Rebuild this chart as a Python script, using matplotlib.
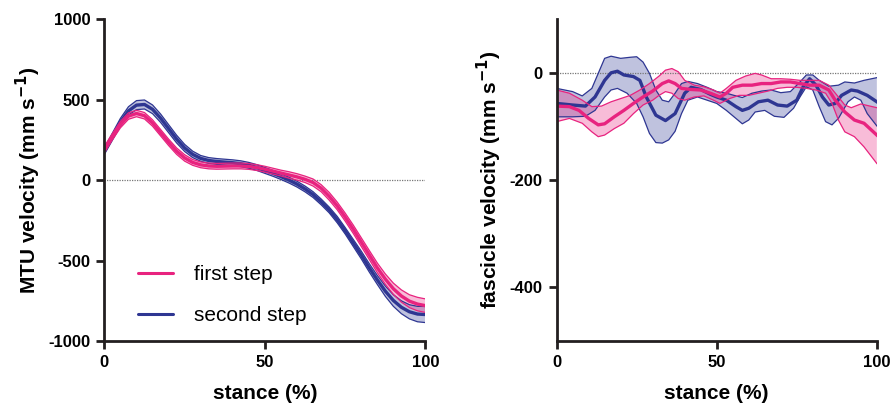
import numpy as np
import matplotlib
matplotlib.use('Agg')
import matplotlib.pyplot as plt

plt.rcParams['font.family'] = ['Liberation Sans', 'DejaVu Sans']
plt.rcParams['axes.unicode_minus'] = False

PINK = '#e8237f'
BLUE = '#2e3692'
AXC = '#231f20'

# MTU velocity (mm/s) over stance, mean and SD
stance = np.arange(0, 100.1, 2.5)
mtu_first = [190, 270, 345, 398, 414, 400, 355, 295, 235, 180, 138, 110, 95, 88, 86, 87,
             88, 88, 85, 78, 68, 56, 44, 32, 20, 5, -15, -50, -100, -160, -230, -305,
             -385, -465, -545, -615, -675, -720, -752, -770, -780]
mtu_first_sd = [20, 20, 20, 20, 20, 20, 20, 20, 20, 20, 20, 18, 18, 18, 18, 18,
                18, 18, 18, 18, 18, 18, 18, 20, 20, 20, 22, 22, 24, 24, 25, 26,
                27, 28, 30, 32, 35, 38, 40, 42, 42]
mtu_second = [180, 270, 360, 430, 466, 470, 440, 385, 320, 255, 200, 160, 135, 122, 116, 112,
              108, 102, 92, 78, 60, 42, 22, 0, -25, -55, -90, -135, -185, -245, -315, -390,
              -465, -545, -620, -690, -748, -790, -818, -832, -835]
mtu_second_sd = [20, 22, 24, 26, 28, 28, 27, 26, 25, 24, 22, 20, 18, 18, 18, 18,
                 18, 18, 18, 18, 18, 18, 18, 18, 18, 18, 18, 18, 18, 20, 20, 22,
                 24, 26, 28, 32, 36, 40, 44, 48, 50]

# fascicle velocity (mm/s): mean line and SD band edges
fas_second_x = [0, 5, 9, 12, 15, 17, 19, 21, 24, 26, 28, 31, 34, 37, 40, 42, 45, 48, 50,
                53, 56, 58, 60, 63, 66, 69, 72, 75, 77, 79, 81, 83, 85, 87, 89, 92, 94, 97, 100]
fas_second = [-57, -60, -62, -45, -14, 0, 3, -4, -7, -14, -45, -79, -89, -76, -38, -27, -31,
              -40, -45, -51, -63, -70, -66, -54, -51, -60, -62, -51, -26, -11, -23, -45, -60,
              -57, -42, -32, -34, -42, -54]
fas_second_hi_x = [0, 5, 8, 11, 13, 15, 17, 20, 23, 25, 27, 29, 31, 33, 35, 37, 39, 41, 44,
                   47, 50, 53, 56, 58, 61, 64, 67, 70, 73, 76, 78, 80, 82, 85, 88, 90, 93, 96, 100]
fas_second_hi = [-29, -35, -43, -29, -1, 27, 31, 27, 29, 30, 20, -1, -32, -51, -54, -38, -20,
                 -16, -20, -27, -35, -38, -43, -46, -38, -34, -32, -37, -35, -17, -4, -4, -14,
                 -25, -23, -17, -19, -14, -9]
fas_second_lo_x = [0, 5, 9, 12, 15, 17, 19, 22, 25, 27, 29, 31, 33, 35, 37, 39, 41, 44, 47,
                   50, 53, 56, 58, 60, 62, 65, 68, 71, 74, 76, 78, 80, 82, 84, 86, 88, 91, 93,
                   95, 97, 100]
fas_second_lo = [-82, -82, -81, -70, -45, -32, -29, -38, -57, -82, -113, -130, -131, -125,
                 -109, -76, -51, -45, -51, -57, -70, -85, -95, -88, -73, -70, -81, -83, -66,
                 -45, -26, -32, -63, -91, -97, -85, -54, -45, -51, -76, -99]

fas_first_x = [0, 4, 7, 10, 13, 15, 18, 21, 24, 27, 30, 33, 35, 37, 39, 42, 45, 48, 51, 53,
               55, 58, 61, 64, 67, 70, 73, 76, 79, 82, 85, 87, 90, 93, 96, 100]
fas_first = [-62, -63, -70, -85, -97, -95, -82, -70, -57, -45, -34, -20, -15, -20, -29, -31,
             -32, -38, -45, -38, -27, -23, -23, -20, -20, -17, -17, -20, -23, -23, -32, -51,
             -73, -88, -94, -116]
fas_first_hi_x = [0, 4, 8, 11, 14, 17, 20, 23, 26, 29, 32, 34, 36, 38, 40, 43, 46, 49, 51,
                  53, 56, 59, 62, 64, 67, 70, 73, 76, 79, 82, 85, 88, 90, 92, 95, 100]
fas_first_hi = [-32, -38, -51, -63, -62, -54, -48, -42, -32, -20, -6, 5, 8, 2, -14, -23, -26,
                -32, -38, -29, -14, -6, -1, -4, -11, -11, -12, -14, -14, -14, -23, -45, -60,
                -65, -58, -65]
fas_first_lo_x = [0, 4, 8, 11, 13, 15, 18, 21, 24, 27, 30, 32, 34, 36, 38, 40, 43, 46, 49,
                  51, 54, 57, 60, 63, 66, 69, 72, 75, 78, 81, 84, 86, 88, 90, 93, 96, 100]
fas_first_lo = [-91, -85, -94, -110, -119, -116, -104, -94, -76, -60, -51, -42, -35, -38,
                -48, -51, -45, -43, -51, -57, -48, -42, -42, -38, -34, -29, -27, -27, -29,
                -32, -38, -57, -88, -110, -119, -138, -169]


def style_axes(ax):
    for side in ['top', 'right']:
        ax.spines[side].set_visible(False)
    for side in ['left', 'bottom']:
        ax.spines[side].set_linewidth(2)
        ax.spines[side].set_color(AXC)
        ax.spines[side].set_clip_on(False)
    ax.tick_params(width=2, length=6, color=AXC, labelsize=12, pad=4)
    for lab in ax.get_xticklabels() + ax.get_yticklabels():
        lab.set_fontweight('bold')
    ax.axhline(0, xmin=0, xmax=1, color='#777777', lw=0.9, ls=(0, (1, 1)), zorder=1)


def band(ax, xh, yh, xl, yl, color):
    px = np.concatenate([xh, xl[::-1]])
    py = np.concatenate([yh, yl[::-1]])
    ax.fill(px, py, color=color, alpha=0.3, lw=0)
    ax.plot(xh, yh, color=color, lw=0.9)
    ax.plot(xl, yl, color=color, lw=0.9)


fig = plt.figure(figsize=(8.92, 4.08), dpi=100)
ax1 = fig.add_axes([0.117, 0.164, 0.360, 0.789])
ax2 = fig.add_axes([0.624, 0.164, 0.359, 0.789])

# left: MTU velocity
for mean, sd, col, lab in [(mtu_second, mtu_second_sd, BLUE, 'second step'),
                           (mtu_first, mtu_first_sd, PINK, 'first step')]:
    m = np.array(mean, dtype=float)
    s = np.array(sd, dtype=float)
    band(ax1, stance, m + s, stance, m - s, col)
    ax1.plot(stance, m, color=col, lw=2.4, label=lab, solid_capstyle='round')

ax1.set_xlim(0, 100)
ax1.set_ylim(-1000, 1000)
ax1.set_xticks([0, 50, 100])
ax1.set_yticks([-1000, -500, 0, 500, 1000])
style_axes(ax1)
ax1.set_xlabel('stance (%)', fontsize=15, fontweight='bold', labelpad=10)
ax1.set_ylabel('MTU velocity (mm s$^{\\mathbf{-1}}$)', fontsize=15, fontweight='bold', labelpad=4)
handles, labels = ax1.get_legend_handles_labels()
leg = ax1.legend(handles[::-1], labels[::-1], loc='lower left', bbox_to_anchor=(0.105, 0.05),
                 frameon=False, fontsize=15, handlelength=1.7, handletextpad=1.0,
                 labelspacing=1.05, borderpad=0, borderaxespad=0)
for h in leg.get_lines():
    h.set_linewidth(2.2)

# right: fascicle velocity
band(ax2, np.array(fas_second_hi_x), np.array(fas_second_hi),
     np.array(fas_second_lo_x), np.array(fas_second_lo), BLUE)
ax2.plot(fas_second_x, fas_second, color=BLUE, lw=2.4)
band(ax2, np.array(fas_first_hi_x), np.array(fas_first_hi),
     np.array(fas_first_lo_x), np.array(fas_first_lo), PINK)
ax2.plot(fas_first_x, fas_first, color=PINK, lw=2.4)

ax2.set_xlim(0, 100)
ax2.set_ylim(-500, 100)
ax2.set_xticks([0, 50, 100])
ax2.set_yticks([-400, -200, 0])
style_axes(ax2)
ax2.set_xlabel('stance (%)', fontsize=15, fontweight='bold', labelpad=10)
ax2.set_ylabel('fascicle velocity (mm s$^{\\mathbf{-1}}$)', fontsize=15, fontweight='bold', labelpad=4)

fig.savefig('out.png', dpi=100)
